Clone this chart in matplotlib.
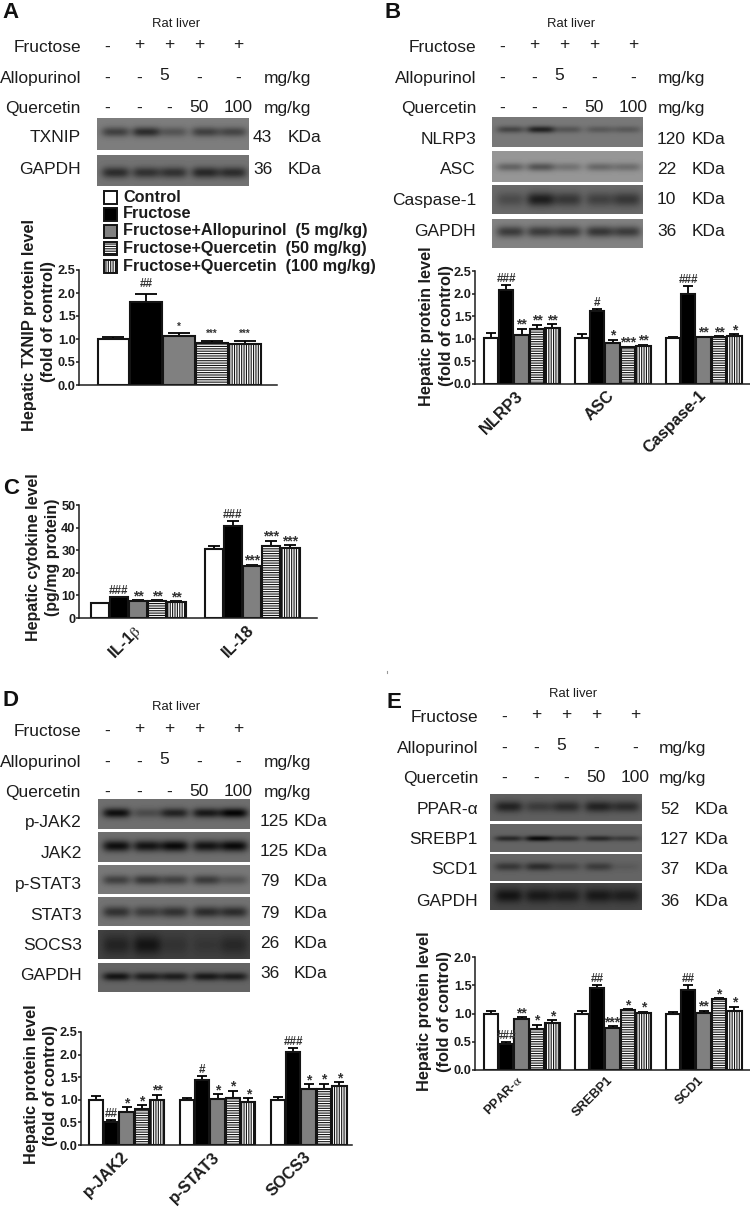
import matplotlib
matplotlib.use('Agg')
import matplotlib.pyplot as plt
from matplotlib.patches import Rectangle
import numpy as np

plt.rcParams['font.family'] = ['Liberation Sans', 'DejaVu Sans']
plt.rcParams['mathtext.fontset'] = 'stix'
plt.rcParams['hatch.linewidth'] = 0.8

W, H = 750, 1209
INK = '#1c1c1c'

# treatment rows above the blots
fructose = ['-', '+', '+', '+', '+']
allopurinol = ['-', '-', '5', '-', '-']
quercetin = ['-', '-', '-', '50', '100']
legend_names = ['Control', 'Fructose', 'Fructose+Allopurinol  (5 mg/kg)',
                'Fructose+Quercetin  (50 mg/kg)', 'Fructose+Quercetin  (100 mg/kg)']

# bar data per panel
a_groups = ['']
a_vals = [[1.00, 1.81, 1.06, 0.91, 0.90]]
a_errs = [[0.05, 0.16, 0.07, 0.05, 0.06]]
a_sigs = [['', '##', '*', '***', '***']]

b_groups = ['NLRP3', 'ASC', 'Caspase-1']
b_vals = [[1.02, 2.09, 1.09, 1.21, 1.23], [1.01, 1.62, 0.91, 0.81, 0.85], [1.01, 2.00, 1.03, 1.04, 1.06]]
b_errs = [[0.11, 0.09, 0.13, 0.10, 0.09], [0.09, 0.03, 0.07, 0.01, 0.02], [0.04, 0.16, 0.02, 0.02, 0.04]]
b_sigs = [['', '###', '**', '**', '**'], ['', '#', '*', '***', '**'], ['', '###', '**', '**', '*']]

c_groups = [r'IL-1$\mathrm{\beta}$', 'IL-18']
c_vals = [[6.5, 9.2, 7.5, 7.4, 7.0], [30.6, 40.8, 23.2, 31.8, 31.0]]
c_errs = [[0.3, 0.3, 0.4, 0.4, 0.4], [1.3, 2.3, 0.4, 2.3, 1.2]]
c_sigs = [['', '###', '**', '**', '**'], ['', '###', '***', '***', '***']]

d_groups = ['p-JAK2', 'p-STAT3', 'SOCS3']
d_vals = [[1.00, 0.50, 0.74, 0.79, 1.00], [1.00, 1.43, 1.02, 1.05, 0.96], [1.00, 2.05, 1.25, 1.25, 1.31]]
d_errs = [[0.09, 0.06, 0.10, 0.09, 0.11], [0.05, 0.09, 0.10, 0.15, 0.08], [0.06, 0.09, 0.09, 0.11, 0.08]]
d_sigs = [['', '##', '*', '*', '**'], ['', '#', '*', '*', '*'], ['', '###', '*', '*', '*']]

e_groups = ['PPAR-$\\mathrm{\\alpha}$', 'SREBP1', 'SCD1']
e_vals = [[1.00, 0.46, 0.91, 0.72, 0.83], [1.00, 1.46, 0.75, 1.07, 1.01], [1.00, 1.42, 1.01, 1.26, 1.05]]
e_errs = [[0.04, 0.03, 0.02, 0.08, 0.05], [0.05, 0.04, 0.02, 0.01, 0.02], [0.02, 0.09, 0.04, 0.01, 0.07]]
e_sigs = [['', '###', '**', '*', '*'], ['', '##', '***', '*', '*'], ['', '##', '**', '*', '*']]

# blots: name, kda, top, bottom, label y, kda y, background, band y, band sigma, band darkness per lane
a_blots = [('TXNIP', '43', 118, 150, 138, 138, 125, .42, 3.5, [60, 80, 40, 60, 55]),
           ('GAPDH', '36', 155, 186, 170, 169, 115, .55, 4, [70, 65, 65, 75, 70])]
b_blots = [('NLRP3', '120', 117, 147, 139, 139, 120, .40, 2.5, [50, 85, 35, 30, 30]),
           ('ASC', '22', 151, 182, 170, 169, 150, .50, 3, [50, 65, 35, 45, 40]),
           ('Caspase-1', '10', 185, 214, 200, 200, 105, .48, 5, [30, 75, 50, 40, 50]),
           ('GAPDH', '36', 219, 248, 231, 231, 130, .42, 4, [70, 70, 70, 75, 70])]
d_blots = [('p-JAK2', '125', 799, 829, 823, 821, 110, .45, 3.5, [95, 35, 75, 85, 105]),
           ('JAK2', '125', 832, 862, 853, 851, 110, .45, 4, [95, 90, 100, 90, 100]),
           ('p-STAT3', '79', 865, 894, 884, 882, 120, .50, 3.5, [55, 65, 55, 60, 35]),
           ('STAT3', '79', 897, 926, 915, 913, 115, .50, 4, [65, 55, 65, 70, 70]),
           ('SOCS3', '26', 930, 959, 946, 943, 65, .50, 7, [30, 45, 15, 12, 25]),
           ('GAPDH', '36', 963, 992, 976, 974, 100, .45, 3, [80, 70, 70, 75, 70])]
e_blots = [('PPAR-α', '52', 794, 821, 809, 809, 95, .45, 4, [60, 35, 50, 60, 50]),
           ('SREBP1', '127', 824, 852, 840, 840, 100, .50, 2, [60, 90, 55, 60, 40]),
           ('SCD1', '37', 854, 881, 870, 870, 100, .45, 3, [45, 55, 30, 40, 10]),
           ('GAPDH', '36', 883, 910, 901, 901, 70, .45, 5, [50, 45, 40, 45, 40])]

fills = [('white', ''), ('black', ''), ('#808080', ''), ('white', '-------'), ('white', '|||||||')]
lane_x = [107, 139, 169, 199, 238]
lane_frac = [.12, .32, .5, .71, .89]

fig = plt.figure(figsize=(W / 100, H / 100), dpi=100, facecolor='white')
bg = fig.add_axes([0, 0, 1, 1])
bg.axis('off')


def header(dx, dy, unit_x, rat_y, rows_y):
    bg.text(176 + dx, rat_y, 'Rat liver', fontsize=9.4, ha='center', va='center', color=INK)
    rows = [('Fructose', fructose), ('Allopurinol', allopurinol), ('Quercetin', quercetin)]
    for (name, signs), y in zip(rows, rows_y):
        bg.text(81 + dx, y + 1, name, fontsize=12.5, ha='right', va='center', color=INK)
        for sign, x in zip(signs, lane_x):
            if sign == '5':
                x -= 5
            bg.text(x + dx, y - (2 if sign in '+5' else 0), sign, fontsize=12.5, ha='center', va='center', color=INK)
    for y in rows_y[1:]:
        bg.text(unit_x, y + 1, 'mg/kg', fontsize=12.5, ha='left', va='center', color=INK)


def blots(specs, x0, x1, num_x, kda_x, label_x):
    xs = np.arange(x0, x1)
    for name, kda, top, bot, lab_y, kda_y, level, band_y, sy, dark in specs:
        ys = np.arange(top, bot)
        img = np.full((len(ys), len(xs)), float(level))
        for frac, d in zip(lane_frac, dark):
            cx = x0 + frac * (x1 - x0)
            cy = top + band_y * (bot - top)
            img -= d * np.outer(np.exp(-((ys - cy) / sy) ** 2 / 2), np.exp(-((xs - cx) / 14.0) ** 4))
        bg.imshow(img, cmap='gray', vmin=0, vmax=255, extent=(x0, x1, bot, top), aspect='auto', interpolation='bilinear')
        bg.text(label_x, lab_y, name, fontsize=12.5, ha='right', va='center', color=INK)
        bg.text(num_x, kda_y, kda, fontsize=12.5, ha='left', va='center', color=INK)
        bg.text(kda_x, kda_y, 'KDa', fontsize=12.5, ha='left', va='center', color=INK)


def panel(left, right, y0, ytop, ymax, ticks, starts, bw, groups, vals, errs, sigs,
          star_fs=10, hash_gap=3, star_gap=0, xfs=11.8, tick_fmt='%.1f'):
    ax = fig.add_axes([left / W, 1 - y0 / H, (right - left) / W, (y0 - ytop) / H])
    ax.patch.set_visible(False)
    ax.set_xlim(left, right)
    ax.set_ylim(0, ymax)
    for s in ['top', 'right']:
        ax.spines[s].set_visible(False)
    for s in ['left', 'bottom']:
        ax.spines[s].set_linewidth(1.1)
        ax.spines[s].set_color(INK)
    ax.set_yticks(ticks)
    ax.set_yticklabels([tick_fmt % t for t in ticks], fontsize=9.2, fontweight='bold', color=INK)
    ax.tick_params(axis='y', length=2.5, width=1.1, pad=0, color=INK)
    ax.set_xticks([s + 2.5 * bw for s in starts])
    ax.set_xticklabels([])
    ax.tick_params(axis='x', length=0)
    for start, name, gv, ge, gs in zip(starts, groups, vals, errs, sigs):
        xs = [start + i * bw + bw / 2 for i in range(5)]
        for x, v, e, sig, (fc, hatch) in zip(xs, gv, ge, gs, fills):
            ax.errorbar(x, v, yerr=[[0], [e]], color='black', elinewidth=1.3, capthick=1.3,
                        capsize=bw * 0.24, zorder=1)
            ax.bar(x, v, width=bw - 1, facecolor=fc, hatch=hatch, edgecolor='#141414', linewidth=1.5, zorder=2)
            if sig:
                is_star = sig[0] == '*'
                ax.annotate(sig, (x, v + e), xytext=(0, (star_gap if is_star else hash_gap) * 0.72),
                            textcoords='offset points', ha='center', va='baseline', color='#333333',
                            fontsize=star_fs if is_star else 8.5, fontweight='bold', clip_on=False, zorder=3)
        if name:
            ax.annotate(name, (start + 2.5 * bw, 0), xytext=(-4, -3), textcoords='offset points',
                        rotation=45, rotation_mode='anchor', ha='right', va='top', color=INK,
                        fontsize=xfs, fontweight='bold', annotation_clip=False)
    return ax


def ylabels(x1, x2, cy1, cy2, l1, l2, fs=11.8):
    bg.text(x1, cy1, l1, rotation=90, ha='center', va='center', fontsize=fs, fontweight='bold', color=INK)
    bg.text(x2, cy2, l2, rotation=90, ha='center', va='center', fontsize=fs, fontweight='bold', color=INK)


# panel A
header(0, 0, 264, 24, [47, 78, 108])
blots(a_blots, 97, 249, 253, 288, 81)
for name, (fc, hatch), y in zip(legend_names, fills, [197, 214, 231, 248, 266]):
    bg.add_patch(Rectangle((103.5, y - 6.5), 13, 13, facecolor=fc, hatch=hatch, edgecolor='#141414', linewidth=1.4))
    bg.text(123, y, name, fontsize=11.7, fontweight='bold', ha='left', va='center', color=INK)
panel(79, 277, 385, 270, 2.5, [0, .5, 1, 1.5, 2, 2.5], [97], 32.8, a_groups, a_vals, a_errs, a_sigs,
      star_fs=7, hash_gap=7, star_gap=3.5)
ylabels(30, 49, 325, 322, 'Hepatic TXNIP protein level', '(fold of control)')

# panel B
header(395, 0, 658, 24, [47, 78, 108])
blots(b_blots, 492, 643, 657, 692, 476)
panel(475, 750, 384, 271, 2.5, [0, .5, 1, 1.5, 2, 2.5], [483, 574, 665], 15.4, b_groups, b_vals, b_errs, b_sigs)
ylabels(427, 447, 326, 326, 'Hepatic protein level', '(fold of control)')

# panel C
panel(79, 317, 618, 505, 50, [0, 10, 20, 30, 40, 50], [90, 204], 19.2, c_groups, c_vals, c_errs, c_sigs, tick_fmt='%d')
ylabels(34, 53, 557, 557, 'Hepatic cytokine level', '(pg/mg protein)', fs=11.5)

# panel D
header(0, 683, 264, 707, [731, 762, 792])
blots(d_blots, 98, 250, 260, 294, 82)
panel(81, 352, 1145, 1032, 2.5, [0, .5, 1, 1.5, 2, 2.5], [88, 179, 270], 15.4, d_groups, d_vals, d_errs, d_sigs)
ylabels(32, 51, 1084, 1085, 'Hepatic protein level', '(fold of control)')

# panel E
header(397, 0, 659, 694, [717, 748, 778])
blots(e_blots, 490, 642, 660, 695, 478)
panel(475, 750, 1070, 957, 2.0, [0, .5, 1, 1.5, 2], [483, 574, 665], 15.4, e_groups, e_vals, e_errs, e_sigs,
      xfs=9.3)
ylabels(425, 445, 1011, 1012, 'Hepatic protein level', '(fold of control)')

# panel letters
for letter, x, y in [('A', 2, 12), ('B', 384, 12), ('C', 3, 488), ('D', 2, 701), ('E', 386, 702)]:
    bg.text(x, y, letter, fontsize=16, fontweight='bold', ha='left', va='center', color='#111111')
bg.plot([387, 387], [671, 673], color='#999999', lw=0.8)

bg.set_xlim(0, W)
bg.set_ylim(H, 0)

fig.savefig('out.png', dpi=100)
